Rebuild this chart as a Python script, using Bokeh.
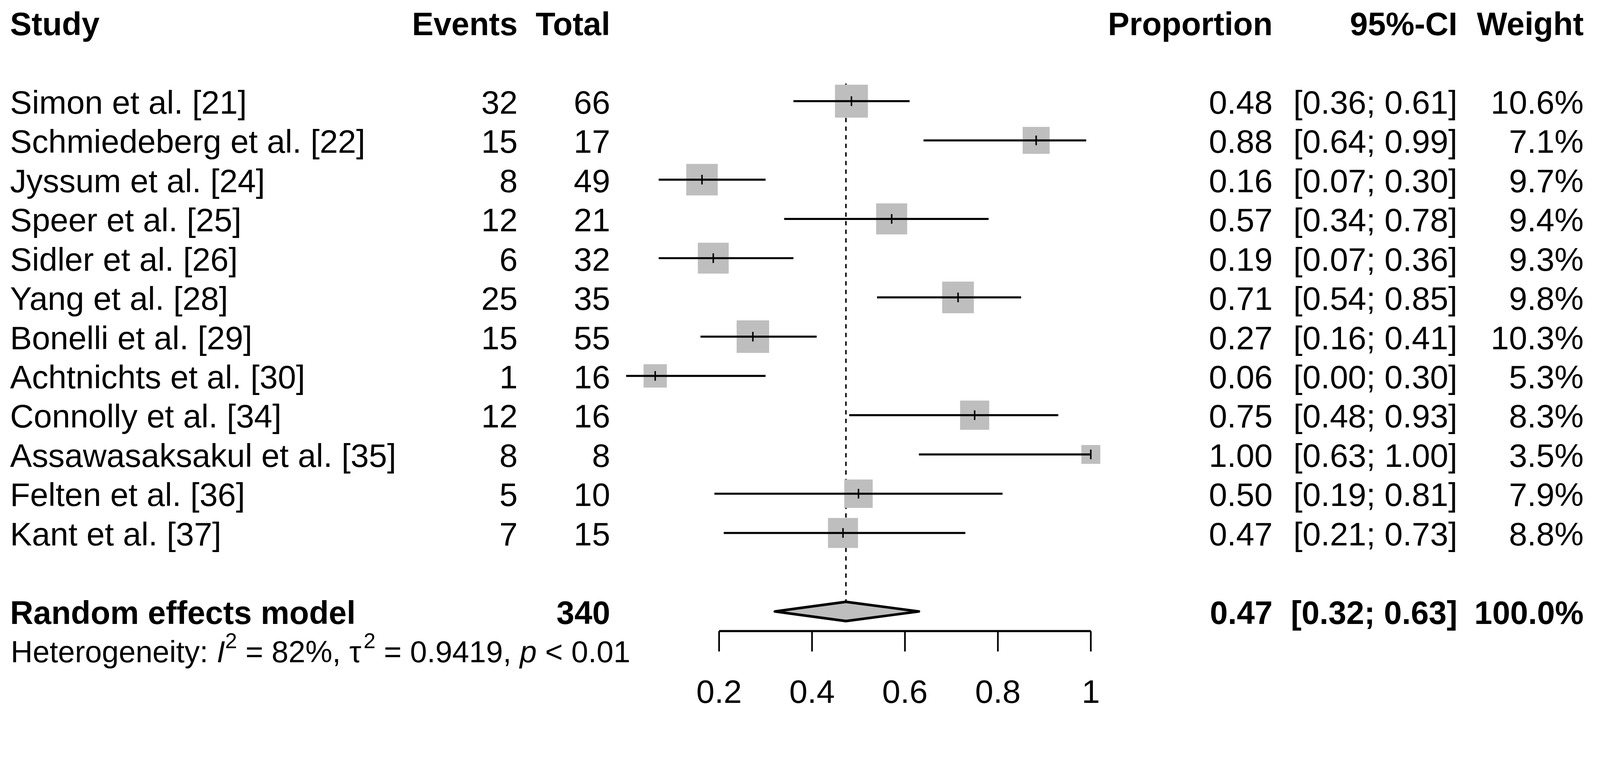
import math
from bokeh.plotting import figure
from bokeh.models import Range1d, ColumnDataSource
from bokeh.core.properties import value
from bokeh.embed import file_html
from bokeh.resources import INLINE

# ---------------- data ----------------
studies = ["Simon et al. [21]", "Schmiedeberg et al. [22]", "Jyssum et al. [24]",
           "Speer et al. [25]", "Sidler et al. [26]", "Yang et al. [28]",
           "Bonelli et al. [29]", "Achtnichts et al. [30]", "Connolly et al. [34]",
           "Assawasaksakul et al. [35]", "Felten et al. [36]", "Kant et al. [37]"]
events = [32, 15, 8, 12, 6, 25, 15, 1, 12, 8, 5, 7]
totals = [66, 17, 49, 21, 32, 35, 55, 16, 16, 8, 10, 15]
ci_low = [0.36, 0.64, 0.07, 0.34, 0.07, 0.54, 0.16, 0.00, 0.48, 0.63, 0.19, 0.21]
ci_high = [0.61, 0.99, 0.30, 0.78, 0.36, 0.85, 0.41, 0.30, 0.93, 1.00, 0.81, 0.73]
weights = [10.6, 7.1, 9.7, 9.4, 9.3, 9.8, 10.3, 5.3, 8.3, 3.5, 7.9, 8.8]

pooled_label = "Random effects model"
pooled_total = 340
pooled_est = 0.473
pooled_low = 0.32
pooled_high = 0.63
pooled_weight = 100.0

het_i2 = "82%"
het_tau2 = "0.9419"
het_p = "< 0.01"

headers = ["Study", "Events", "Total", "Proportion", "95%-CI", "Weight"]
tick_values = [0.2, 0.4, 0.6, 0.8, 1.0]
tick_labels = ["0.2", "0.4", "0.6", "0.8", "1"]

# ---------------- layout ----------------
M = 1.055                          # picture px per CSS px (calibrated)
W = int(4336 / M) - 16
H = int(1958 / M) - 16
X0, SX = 1699.0, 1255.0            # picture x of proportion 0, px per unit
Y_ROW0, SY = 281.0, 106.0          # picture y of first study row, px per row


def dx(X):
    return (X - X0) / SX


def ry(Y):
    return (Y - Y_ROW0) / SY


def px(v):
    return v / M


FONT = "Liberation Sans"
FS = "%.1fpx" % px(88.5)           # regular text
FSB = "%.1fpx" % px(87)            # bold text
MID = 3.0 / SY                     # cap centre sits slightly below the row line

COL_STUDY = dx(35)
COL_EVENTS = dx(1406)
COL_TOTAL = dx(1656)
COL_PROP = dx(3445)
COL_CI = dx(3944)
COL_WEIGHT = dx(4285)

HEADER_ROW = -2
n = len(studies)
rows = list(range(n))
SUM_ROW = n + 1
AXIS_Y = ry(1712)
TICK_END = ry(1767)
TICK_LAB = ry(1875)

p = figure(width=W, height=H,
           x_range=Range1d(dx(8 * M), dx((8 + W) * M)),
           y_range=Range1d(start=ry((8 + H) * M), end=ry(8 * M)),
           output_backend="svg", toolbar_location=None,
           x_axis_type=None, y_axis_type=None, min_border=0,
           outline_line_color=None, background_fill_color="white",
           border_fill_color="white")

# dashed pooled line
p.segment(x0=[pooled_est], y0=[rows[0] - 0.45], x1=[pooled_est], y1=[SUM_ROW - 26.0 / SY],
          line_color="black", line_width=px(4), line_dash="11 11")

# squares, CIs, point ticks
props = [e / t for e, t in zip(events, totals)]
wmax = max(weights)
sizes = [px(89.0) * math.sqrt(w / wmax) for w in weights]
src = ColumnDataSource(dict(x=props, y=rows, lo=ci_low, hi=ci_high, size=sizes,
                            t0=[r - 13.0 / SY for r in rows], t1=[r + 13.0 / SY for r in rows]))
p.scatter(x="x", y="y", size="size", marker="square", source=src,
          fill_color="#bebebe", line_color=None)
p.segment(x0="lo", y0="y", x1="hi", y1="y", source=src, line_color="black", line_width=px(5.5))
p.segment(x0="x", y0="t0", x1="x", y1="t1", source=src, line_color="black", line_width=px(4))

# diamond
dh = 26.0 / SY
p.patch(x=[pooled_low, pooled_est, pooled_high, pooled_est],
        y=[SUM_ROW, SUM_ROW - dh, SUM_ROW, SUM_ROW + dh],
        fill_color="#bebebe", line_color="black", line_width=px(7), line_join="round")

# x axis (drawn from the tick data through the plot's scales)
p.segment(x0=[tick_values[0]], y0=[AXIS_Y], x1=[tick_values[-1]], y1=[AXIS_Y],
          line_color="black", line_width=px(6))
p.segment(x0=tick_values, y0=[AXIS_Y] * len(tick_values), x1=tick_values,
          y1=[TICK_END] * len(tick_values), line_color="black", line_width=px(4.5))
p.text(x=tick_values, y=[TICK_LAB] * len(tick_values), text=tick_labels,
       text_font=value(FONT), text_font_size=FS, text_align="center",
       text_baseline="middle", text_color="black")


def put_text(xs, ys, texts, align, bold=False, size=None, style=None):
    s = ColumnDataSource(dict(x=xs, y=ys, t=texts))
    if size is None:
        size = FSB if bold else FS
    p.text(x="x", y="y", text="t", source=s, text_font=value(FONT), text_font_size=size,
           text_align=align, text_baseline="middle", text_color="black",
           text_font_style=style if style else ("bold" if bold else "normal"))


# headers
hy = HEADER_ROW + MID
put_text([COL_STUDY], [hy], [headers[0]], "left", True)
put_text([COL_EVENTS, COL_TOTAL, COL_PROP, COL_CI, COL_WEIGHT], [hy] * 5, headers[1:], "right", True)

# study rows
ty = [r + MID for r in rows]
put_text([COL_STUDY] * n, ty, studies, "left")
put_text([COL_EVENTS] * n, ty, [str(e) for e in events], "right")
put_text([COL_TOTAL] * n, ty, [str(t) for t in totals], "right")
put_text([COL_PROP] * n, ty, ["%.2f" % v for v in props], "right")
put_text([COL_CI] * n, ty, ["[%.2f; %.2f]" % (a, b) for a, b in zip(ci_low, ci_high)], "right")
put_text([COL_WEIGHT] * n, ty, ["%.1f%%" % w for w in weights], "right")

# summary row
sy = SUM_ROW + MID
put_text([COL_STUDY], [sy], [pooled_label], "left", True)
put_text([COL_TOTAL, COL_PROP, COL_CI, COL_WEIGHT], [sy] * 4,
         [str(pooled_total), "%.2f" % pooled_est, "[%.2f; %.2f]" % (pooled_low, pooled_high),
          "%.1f%%" % pooled_weight], "right", True)

# heterogeneity line, laid out piece by piece with Arial/Liberation advance widths
ADV = {'H': 722, 'e': 556, 't': 278, 'r': 333, 'o': 556, 'g': 556, 'n': 556, 'i': 222,
       'y': 500, ':': 278, ' ': 278, '=': 584, '8': 556, '2': 556, '%': 889, ',': 278,
       '0': 556, '.': 278, '9': 556, '4': 556, '1': 556, '<': 584, 'I': 278, 'p': 556,
       'τ': 470}
HF, SF = 82.0, 58.0
pieces = [("Heterogeneity: ", HF, "normal", 0.0),
          ("I", HF, "italic", 0.0),
          ("2", SF, "normal", 30.0),
          (" = " + het_i2 + ", ", HF, "normal", 0.0),
          ("τ", HF, "normal", 0.0),
          ("2", SF, "normal", 30.0),
          (" = " + het_tau2 + ", ", HF, "normal", 0.0),
          ("p", HF, "italic", 0.0),
          (" " + het_p, HF, "normal", 0.0)]
het_mid = ry(1768)
xpos = 37.0
for txt, fsz, style, rise in pieces:
    lead = len(txt) - len(txt.lstrip(" "))
    start = xpos + lead * ADV[' '] / 1000.0 * fsz
    put_text([dx(start)], [het_mid - rise / SY], [txt.strip(" ")], "left",
             size="%.1fpx" % px(fsz), style=style)
    xpos += sum(ADV.get(c, 556) for c in txt) / 1000.0 * fsz

open("out.html", "w").write(file_html(p, INLINE))
